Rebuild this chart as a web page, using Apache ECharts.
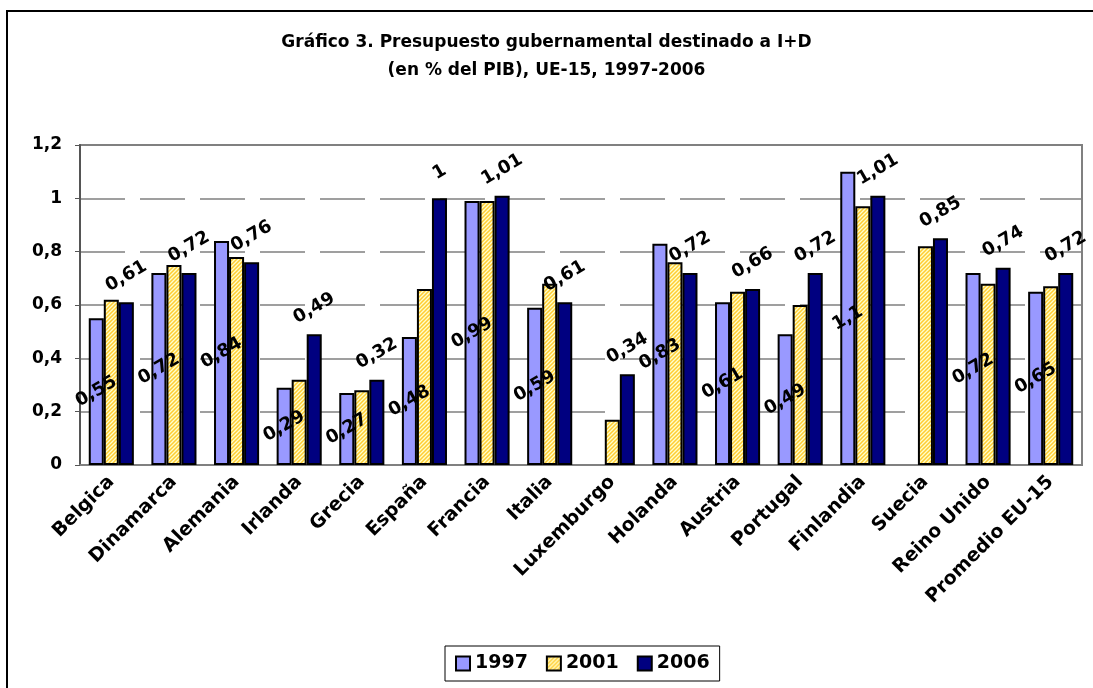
<!DOCTYPE html>
<html>
<head>
<meta charset="utf-8">
<script src="https://cdn.jsdelivr.net/npm/echarts@6/dist/echarts.min.js"></script>
<style>
  html, body { margin: 0; background: #fff; }
  #chart { width: 1093px; height: 688px; }
</style>
</head>
<body>
<div id="chart"></div>
<script>
const categories = ['Belgica', 'Dinamarca', 'Alemania', 'Irlanda', 'Grecia', 'España', 'Francia', 'Italia',
  'Luxemburgo', 'Holanda', 'Austria', 'Portugal', 'Finlandia', 'Suecia', 'Reino Unido', 'Promedio EU-15'];
const years = ['1997', '2001', '2006'];
const v1997 = [0.55, 0.72, 0.84, 0.29, 0.27, 0.48, 0.99, 0.59, null, 0.83, 0.61, 0.49, 1.1, null, 0.72, 0.65];
const v2001 = [0.62, 0.75, 0.78, 0.32, 0.28, 0.66, 0.99, 0.68, 0.17, 0.76, 0.65, 0.60, 0.97, 0.82, 0.68, 0.67];
const v2006 = [0.61, 0.72, 0.76, 0.49, 0.32, 1.00, 1.01, 0.61, 0.34, 0.72, 0.66, 0.72, 1.01, 0.85, 0.74, 0.72];

const font = 'DejaVu Sans';
const comma = v => String(v).replace('.', ',');
const clean = arr => arr.map(v => (v === null ? '-' : v));

// hatched yellow fill like the excel pattern
function hatch() {
  const c = document.createElement('canvas');
  c.width = 4; c.height = 4;
  const ctx = c.getContext('2d');
  ctx.fillStyle = '#FFFFCC';
  ctx.fillRect(0, 0, 4, 4);
  ctx.strokeStyle = '#FFCC33';
  ctx.lineWidth = 1.5;
  ctx.beginPath();
  ctx.moveTo(0, 4); ctx.lineTo(4, 0);
  ctx.moveTo(-1, 1); ctx.lineTo(1, -1);
  ctx.moveTo(3, 5); ctx.lineTo(5, 3);
  ctx.stroke();
  return { image: c, repeat: 'repeat' };
}

const chart = echarts.init(document.getElementById('chart'));

const labelStyle = {
  show: true,
  rotate: 30,
  color: '#000',
  fontFamily: font,
  fontWeight: 'bold',
  fontSize: 18,
  formatter: p => comma(p.value)
};

chart.setOption({
  animation: false,
  backgroundColor: '#fff',
  title: {
    text: 'Gráfico 3. Presupuesto gubernamental destinado a I+D\n(en % del PIB), UE-15, 1997-2006',
    left: 'center',
    top: 24,
    textStyle: { fontFamily: font, fontWeight: 'bold', fontSize: 17, lineHeight: 28, color: '#000' }
  },
  graphic: [{
    type: 'rect',
    shape: { x: 7, y: 11, width: 1200, height: 800 },
    style: { fill: 'none', stroke: '#000', lineWidth: 2 },
    silent: true
  }],
  legend: {
    data: years,
    icon: 'rect',
    left: 445,
    top: 646,
    padding: [8, 10, 8, 10],
    borderColor: '#000',
    borderWidth: 1,
    itemWidth: 14,
    itemHeight: 14,
    itemGap: 18,
    textStyle: { fontFamily: font, fontWeight: 'bold', fontSize: 19, color: '#000' }
  },
  grid: {
    left: 80, right: 11, top: 145, bottom: 223,
    show: true, borderColor: '#808080', borderWidth: 2
  },
  xAxis: {
    type: 'category',
    data: categories,
    axisLine: { lineStyle: { color: '#808080', width: 2 } },
    axisTick: { length: 6, lineStyle: { color: '#808080' } },
    axisLabel: {
      interval: 0, rotate: 45, margin: 14,
      fontFamily: font, fontWeight: 'bold', fontSize: 19, color: '#000'
    }
  },
  yAxis: {
    type: 'value',
    min: 0, max: 1.2, interval: 0.2,
    axisLine: { show: true, lineStyle: { color: '#555', width: 2 } },
    axisTick: { show: true, length: 5, lineStyle: { color: '#555' } },
    axisLabel: {
      formatter: v => comma(Math.round(v * 10) / 10),
      fontFamily: font, fontWeight: 'bold', fontSize: 17, color: '#000', margin: 18
    },
    splitLine: { lineStyle: { color: '#808080', width: 1.5, type: [45, 15] } }
  },
  series: [
    {
      name: '1997', type: 'bar', data: clean(v1997),
      barGap: '0%', barCategoryGap: '28%',
      itemStyle: { color: '#9999FF', borderColor: '#000', borderWidth: 2 },
      label: Object.assign({}, labelStyle, { position: 'inside' })
    },
    {
      name: '2001', type: 'bar', data: clean(v2001),
      itemStyle: { color: hatch(), borderColor: '#000', borderWidth: 2 }
    },
    {
      name: '2006', type: 'bar', data: clean(v2006),
      itemStyle: { color: '#000080', borderColor: '#000', borderWidth: 2 },
      label: Object.assign({}, labelStyle, {
        position: 'top', distance: 26, align: 'center', verticalAlign: 'middle'
      })
    }
  ]
});
</script>
</body>
</html>
